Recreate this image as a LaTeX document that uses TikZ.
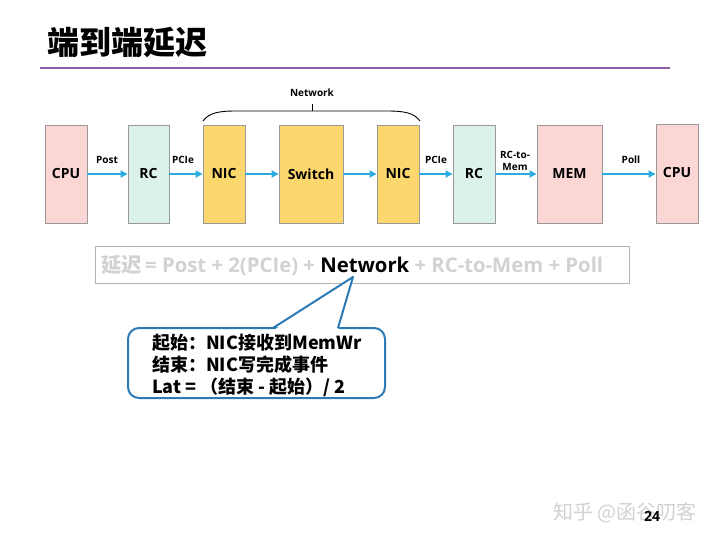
\documentclass[tikz,border=0pt]{standalone}
\usepackage{fontspec}
\setmainfont{Open Sans}
\newfontfamily\cjk{Noto Sans CJK SC}
\usetikzlibrary{arrows.meta}
\definecolor{pinkf}{HTML}{FCD5D5}
\definecolor{mintf}{HTML}{DAF2EA}
\definecolor{yellf}{HTML}{FCD76E}
\definecolor{arrblue}{HTML}{29ABE2}
\definecolor{callblue}{HTML}{2C7BB6}
\definecolor{titleline}{HTML}{8E5EA6}
\definecolor{lightg}{HTML}{D2D2D2}
\begin{document}
\begin{tikzpicture}[x=1pt,y=-1pt,
  blk/.style={draw=black!40, line width=0.9pt, minimum height=98pt, inner sep=0pt,
    font=\bfseries\fontsize{14}{14}\selectfont},
  arr/.style={draw=arrblue, line width=2.2pt, -{Triangle[length=7pt,width=7pt]}},
  lbl/.style={font=\bfseries\fontsize{10}{11}\selectfont, inner sep=0pt, align=center}]
\useasboundingbox (0,0) rectangle (720,540);
% title
\node[anchor=west, inner sep=0pt, font=\cjk\bfseries\fontsize{32}{32}\selectfont] (title) at (47,42) {端到端延迟};
\draw[titleline, line width=2pt] (40,68) -- (670,68);
% boxes
\node[blk, fill=pinkf, minimum width=42pt] (cpu1) at (66,174) {CPU};
\node[blk, fill=mintf, minimum width=41pt] (rc1) at (148.5,174) {RC};
\node[blk, fill=yellf, minimum width=42pt] (nic1) at (224,174) {NIC};
\node[blk, fill=yellf, minimum width=64pt] (sw) at (311,174) {Switch};
\node[blk, fill=yellf, minimum width=42pt] (nic2) at (398,174) {NIC};
\node[blk, fill=mintf, minimum width=42pt] (rc2) at (474,174) {RC};
\node[blk, fill=pinkf, minimum width=65pt] (mem) at (569.5,174) {MEM};
\node[blk, fill=pinkf, minimum width=42pt, minimum height=99pt] (cpu2) at (677,173.5) {\raisebox{2pt}{CPU}};
% arrows
\draw[arr] (cpu1) -- (rc1);
\draw[arr] (rc1) -- (nic1);
\draw[arr] (nic1) -- (sw);
\draw[arr] (sw) -- (nic2);
\draw[arr] (nic2) -- (rc2);
\draw[arr] (rc2) -- (mem);
\draw[arr] (mem.east) -- (mem.east -| cpu2.west);
% arrow labels
\node[lbl] (lpost) at (107,160) {Post};
\node[lbl] (lpcie1) at (183,160) {PCIe};
\node[lbl] (lpcie2) at (436,160) {PCIe};
\node[lbl, font=\bfseries\fontsize{10}{12}\selectfont] (lrcm) at (515,160.5) {RC-to-\\Mem};
\node[lbl] (lpoll) at (631,160) {Poll};
% brace
\draw[line width=0.9pt] (203,121) .. controls (209,113) and (218,111) .. (236,111) -- (387,111) .. controls (405,111) and (414,113) .. (420,121);
\draw[line width=0.9pt] (312,111) -- (312,104);
\node[lbl] (lnet) at (312,93) {Network};
% formula
\node[draw=black!30, line width=0.8pt, minimum width=534pt, minimum height=37pt, anchor=north west, inner sep=0pt] (fbox) at (95,246) {};
\node[anchor=west, inner sep=0pt, font=\bfseries\fontsize{20.3}{20}\selectfont] (ftext) at (101,265)
  {\textcolor{lightg}{{\cjk 延迟}\,= Post + 2(PCIe) +} Network \textcolor{lightg}{+ RC-to-Mem + Poll}};
% callout
\node[draw=callblue, line width=2pt, fill=white, rounded corners=11pt, minimum width=257pt, minimum height=70pt, inner sep=0pt] (call) at (256.5,363) {};
\fill[white] (274,330) -- (353,277) -- (338,330) -- cycle;
\draw[callblue, line width=2pt, line join=round] (273,328) -- (353,277) -- (338,328);
\node[anchor=west, inner sep=0pt, align=left, font=\cjk\bfseries\fontsize{18}{22}\selectfont] (ctext) at (152,365)
  {起始：NIC接收到MemWr\\结束：NIC写完成事件\\Lat = （结束 - 起始）/ 2};
% footer
\node[inner sep=0pt, font=\cjk\fontsize{20}{20}\selectfont, text=black!18] (wm) at (625,513) {知乎 @函谷叨客};
\node[inner sep=0pt, font=\bfseries\fontsize{14}{14}\selectfont] (pg) at (652,516) {24};
\end{tikzpicture}
\end{document}
